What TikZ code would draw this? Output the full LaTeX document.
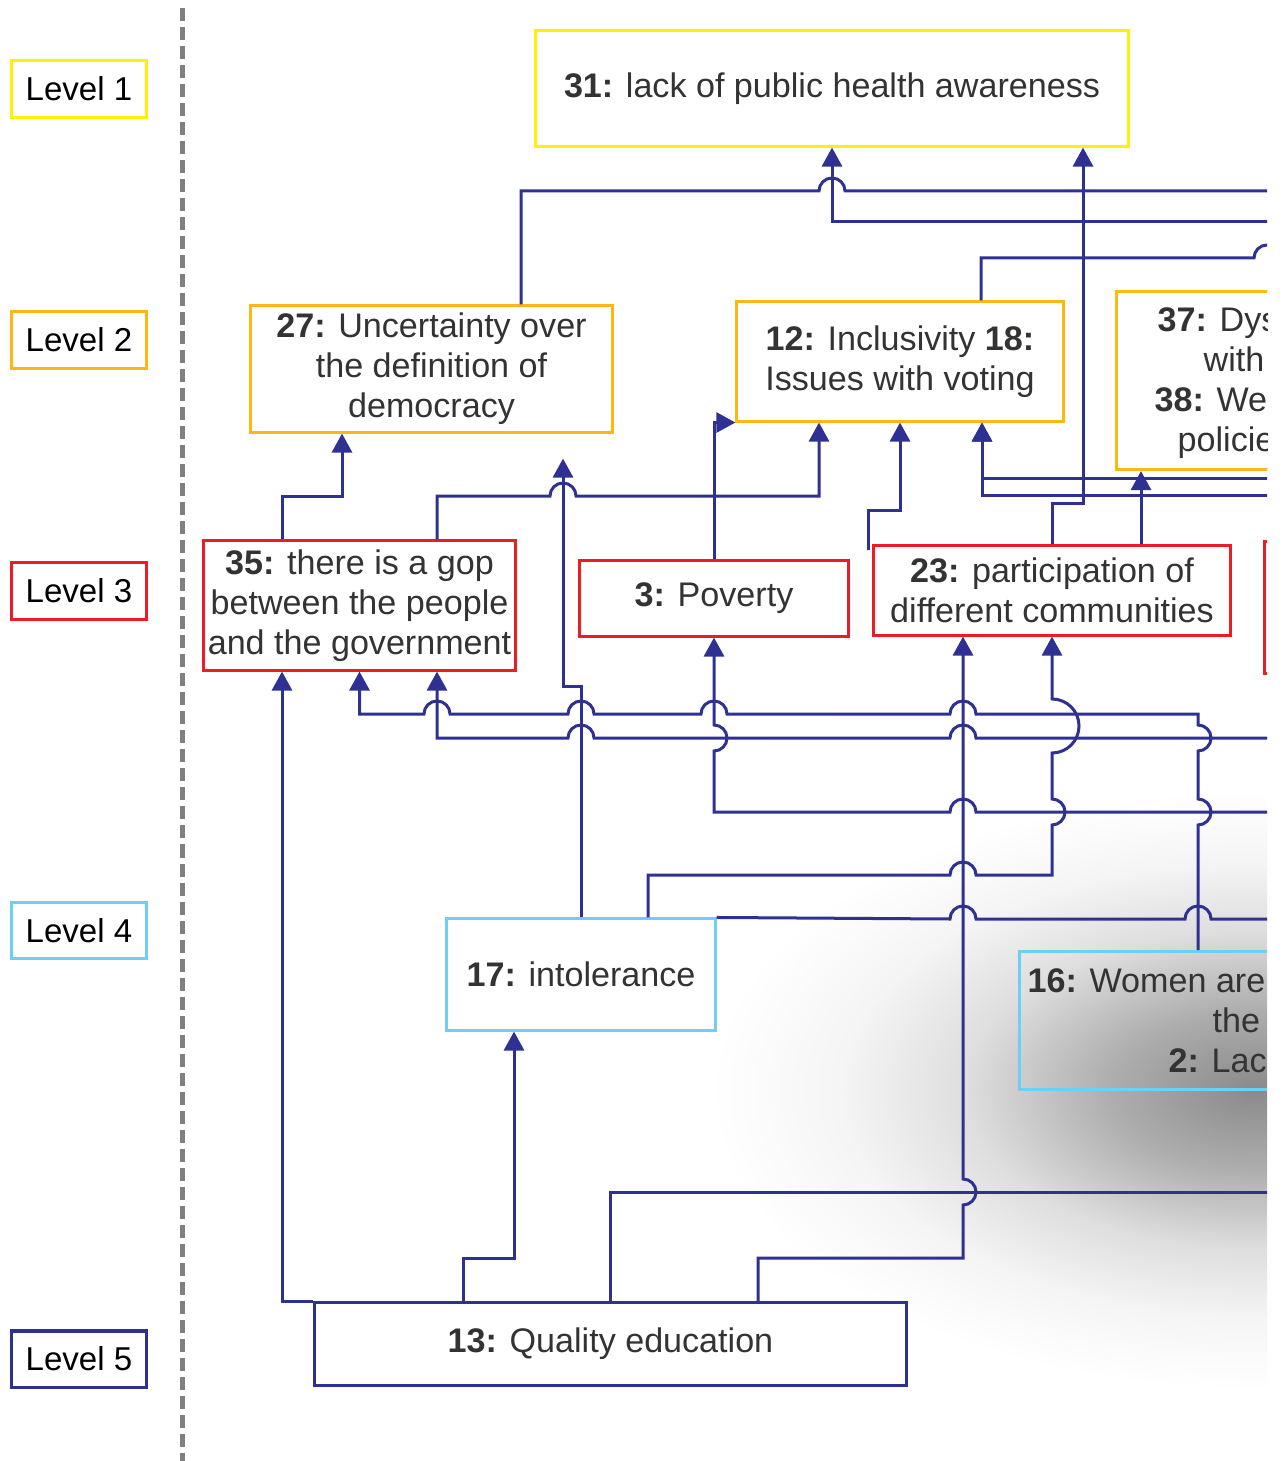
\documentclass[tikz,border=0pt]{standalone}
\usepackage{fontspec}
\setmainfont{Liberation Sans}
\usetikzlibrary{arrows.meta}

\definecolor{lvlyellow}{RGB}{255,242,0}
\definecolor{lvlorange}{RGB}{253,184,19}
\definecolor{lvlred}{RGB}{237,28,36}
\definecolor{lvlblue}{RGB}{109,207,246}
\definecolor{lvlnavy}{RGB}{46,49,146}
\definecolor{txtgray}{RGB}{51,51,51}
\definecolor{dashgray}{RGB}{128,128,128}

\pgfdeclareradialshading{smudge}{\pgfpoint{0bp}{0bp}}{color(0bp)=(black!46); color(4.5bp)=(black!32); color(9bp)=(black!13); color(13bp)=(black!4); color(17bp)=(white); color(50bp)=(white)}

\begin{document}
\begin{tikzpicture}[x=0.01cm, y=-0.01cm,
    box/.style={draw, line width=0.03cm, fill=white, text=txtgray, align=center, inner sep=0pt,
        font=\fontsize{9.7pt}{11.4pt}\selectfont},
    frag/.style={text=txtgray, inner sep=0pt, anchor=base west, font=\fontsize{9.7pt}{11.4pt}\selectfont},
    lvl/.style={draw, line width=0.03cm, fill=white, inner sep=0pt, minimum width=1.34cm, minimum height=0.56cm,
        font=\fontsize{9.4pt}{11pt}\selectfont},
    wire/.style={draw=lvlnavy, line width=0.03cm},
    link/.style={wire, -{Triangle[width=0.2cm, length=0.19cm]}},
    hopr/.style={insert path={arc[start angle=180, end angle=0, radius=0.13cm]}},
    hopl/.style={insert path={arc[start angle=0, end angle=180, radius=0.13cm]}},
    vup/.style={insert path={arc[start angle=-90, end angle=90, radius=0.13cm]}},
    bigvup/.style={insert path={arc[start angle=-90, end angle=90, radius=0.27cm]}}]

    \useasboundingbox (0,0) rectangle (1283,1461);
    \begin{scope}
    \clip (0,0) rectangle (1267,1461);

    \shade[shading=smudge] (1255,1090) ellipse [x radius=8cm, y radius=4.4cm];

    \draw[dashgray, line width=0.05cm, dash pattern=on 0.13cm off 0.06cm] (182,8) -- (182,1461);

    % levels
    \node[lvl, draw=lvlyellow] (lv1) at (79,89) {Level 1};
    \node[lvl, draw=lvlorange] (lv2) at (79,340) {Level 2};
    \node[lvl, draw=lvlred] (lv3) at (79,591) {Level 3};
    \node[lvl, draw=lvlblue] (lv4) at (79,930.5) {Level 4};
    \node[lvl, draw=lvlnavy] (lv5) at (79,1359) {Level 5};

    % factors
    \node[box, draw=lvlyellow, minimum width=5.92cm, minimum height=1.15cm] (n31) at (832,88.5) {\textbf{31:} lack of public health awareness};

    \node[box, draw=lvlorange, minimum width=3.61cm, minimum height=1.26cm] (n27) at (431.5,369) {\textbf{27:} Uncertainty over\\the definition of\\democracy};
    \node[box, draw=lvlorange, minimum width=3.26cm, minimum height=1.19cm] (n12) at (900,361.5) {\textbf{12:} Inclusivity \textbf{18:}\\Issues with voting};
    \node[box, draw=lvlorange, anchor=north west, minimum width=3cm, minimum height=1.78cm] (n37) at (1115,290) {};
    \node[frag] (t37) at (1157,332) {\textbf{37:} Dys};
    \node[frag] (t37b) at (1203,372) {with};
    \node[frag] (t38) at (1154,412) {\textbf{38:} Wea};
    \node[frag] (t38b) at (1177,452) {policie};

    \node[box, draw=lvlred, minimum width=3.11cm, minimum height=1.29cm] (n35) at (359.5,605.5) {\textbf{35:} there is a gop\\between the people\\and the government};
    \node[box, draw=lvlred, minimum width=2.68cm, minimum height=0.75cm] (n3) at (714,598.5) {\textbf{3:} Poverty};
    \node[box, draw=lvlred, minimum width=3.57cm, minimum height=0.89cm] (n23) at (1052,590.5) {\textbf{23:} participation of\\different communities};
    \node[box, draw=lvlred, anchor=north west, minimum width=2cm, minimum height=1.32cm] (nR) at (1263,540) {};

    \node[box, draw=lvlblue, minimum width=2.68cm, minimum height=1.11cm] (n17) at (581,974.5) {\textbf{17:} intolerance};
    \node[box, draw=lvlblue, fill=none, anchor=north west, minimum width=3cm, minimum height=1.38cm] (n16) at (1018,950) {};
    \node[frag] (t16) at (1027,992) {\textbf{16:} Women are};
    \node[frag] (t16b) at (1212,1032) {the};
    \node[frag] (t2) at (1168,1072) {\textbf{2:} Lack};

    \node[box, draw=lvlnavy, minimum width=5.91cm, minimum height=0.82cm] (n13) at (610.5,1344) {\textbf{13:} Quality education};

    \coordinate (n27gap) at ([yshift=-0.25cm]n27.south -| 563,0);

    % into level 1
    \draw[wire] (n27.north -| 521,0) |- (819,191) [hopr] -- (1290,191);
    \draw[link] (1290,222) -| (n31.south);
    \draw[link] (n23.north) |- (1083,503) -- (n31.south -| 1083,0);
    \draw[wire] (n12.north -| 981,0) |- (1254,258) [hopr] -- (1290,258);

    % into level 2
    \draw[link] (n35.north -| 282,0) -- (282,496) -| (n27.south -| 342,0);
    \draw[link] (n35.north -| 437,0) |- (550,496) [hopr] -- (819,496) -- (n12.south -| 819,0);
    \draw[link] (n17.north -| 581,0) -- (581,686) -| (n27gap);
    \draw[link] (n3.north) |- (n12.south west);
    \draw[link] ([xshift=-0.03cm, yshift=-0.06cm]n23.north west) |- (900,510) -- (n12.south);
    \draw[link] (1290,478) -| (n12.south -| 982,0);
    \draw[link] (1290,495) -| (n12.south -| 982,0);
    \draw[link] (n23.north -| 1141,0) -- (n37.south -| 1141,0);

    % into level 3
    \draw[link] (n16.north -| 1198,0) -- (1198,825) [vup] -- (1198,751) [vup] -- (1198,714)
        -- (976,714) [hopl] -- (727,714) [hopl] -- (594,714) [hopl] -- (450,714) [hopl] -| (n35.south);
    \draw[link] (1290,738) -- (976,738) [hopl] -- (594,738) [hopl] -| (n35.south -| 437,0);
    \draw[link] (1290,812) -- (976,812) [hopl] -| (714,751) [vup] -- (n3.south);
    \draw[link] (n17.north -| 648,0) |- (950,875) [hopr] -- (1052,875) -- (1052,825) [vup]
        -- (1052,753) [bigvup] -- (n23.south);
    \draw[wire] (n17.north east) -- (950,919) [hopr] -- (1185,919) [hopr] -- (1290,919);

    % from level 5
    \draw[link] (n13.north -| 758,0) |- (963,1258) -- (963,1205) [vup] -- (n23.south -| 963,0);
    \draw[wire] (n13.north -| 610,0) |- (1290,1192);
    \draw[link] (n13.north -| 463,0) |- (514,1258) -- (n17.south -| 514,0);
    \draw[link] (n13.north west) -| (n35.south -| 282,0);
    \end{scope}
\end{tikzpicture}
\end{document}
